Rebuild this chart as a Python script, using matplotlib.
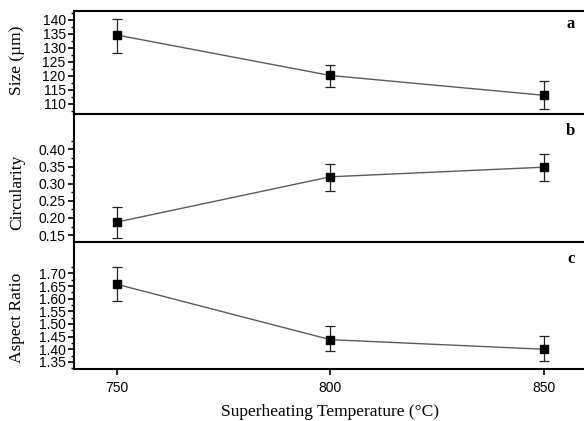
import matplotlib
matplotlib.use("Agg")
import numpy as np
import matplotlib.pyplot as plt
from matplotlib.ticker import FixedLocator

temps = [750, 800, 850]

size = [134.6, 120.1, 113.0]
size_lo = [128.2, 115.9, 108.2]
size_hi = [140.2, 124.0, 118.0]
size_ticks = [110, 115, 120, 125, 130, 135, 140]

circ = [0.188, 0.320, 0.348]
circ_lo = [0.142, 0.279, 0.307]
circ_hi = [0.232, 0.358, 0.385]
circ_ticks = [0.15, 0.20, 0.25, 0.30, 0.35, 0.40]

aspect = [1.657, 1.438, 1.400]
aspect_lo = [1.591, 1.392, 1.353]
aspect_hi = [1.724, 1.491, 1.453]
aspect_ticks = [1.35, 1.40, 1.45, 1.50, 1.55, 1.60, 1.65, 1.70]

tick_font = "Liberation Sans"
label_font = "Liberation Serif"

fig = plt.figure(figsize=(5.84, 4.21), dpi=100)

left, right = 74 / 584, 586.7 / 584
edges = [11, 114, 242, 369]  # px from top


def panel(i, y, lo, hi, ylim, ticks, ylabel, letter, label_y, bottom=False):
    top_px, bot_px = edges[i], edges[i + 1]
    ax = fig.add_axes([left, 1 - bot_px / 421, right - left, (bot_px - top_px) / 421])
    err = [[v - l for v, l in zip(y, lo)], [h - v for v, h in zip(y, hi)]]
    ax.plot(temps, y, color="#5a5a5a", lw=1.0, zorder=2)
    ax.errorbar(temps, y, yerr=err, fmt="none", ecolor="#222222", elinewidth=0.9,
                capsize=3.5, capthick=0.9, zorder=3)
    ax.plot(temps, y, ls="none", marker="s", ms=6, color="black", zorder=4)
    ax.set_xlim(740, 860)
    ax.set_ylim(*ylim)
    step = ticks[1] - ticks[0]
    minors = [t - step / 2 for t in ticks] + [ticks[-1] + step / 2]
    ax.yaxis.set_major_locator(FixedLocator(ticks))
    ax.yaxis.set_minor_locator(FixedLocator(minors))
    ax.set_yticklabels([f"{t:g}" if step >= 1 else f"{t:.2f}" for t in ticks])
    ax.set_xticks(temps)
    ax.tick_params(axis="y", which="major", direction="out", length=4, width=1.2, pad=2)
    ax.tick_params(axis="y", which="minor", direction="out", length=2.5, width=1.0)
    ax.tick_params(axis="x", direction="out", length=4, width=1.2, pad=5,
                   labelbottom=bottom, bottom=bottom)
    for lab in ax.get_yticklabels() + ax.get_xticklabels():
        lab.set_fontfamily(tick_font)
        lab.set_fontsize(10)
    for s in ax.spines.values():
        s.set_linewidth(1.5)
    ax.spines["right"].set_visible(False)
    ax.set_ylabel(ylabel, family=label_font, fontsize=12.5)
    ax.yaxis.set_label_coords(-0.096, label_y)
    ax.text(0.969, 0.87, letter, transform=ax.transAxes, family=label_font,
            fontweight="bold", fontsize=12, ha="center", va="center")
    return ax


panel(0, size, size_lo, size_hi, (106.3, 143.2), size_ticks, "Size (µm)", "a", 0.52)
panel(1, circ, circ_lo, circ_hi, (0.13, 0.503), circ_ticks, "Circularity", "b", 0.39)
ax = panel(2, aspect, aspect_lo, aspect_hi, (1.322, 1.824), aspect_ticks,
           "Aspect Ratio", "c", 0.40, bottom=True)
ax.set_xlabel("Superheating Temperature (°C)", family=label_font, fontsize=12.5, labelpad=6)

fig.savefig("out.png", dpi=100)
